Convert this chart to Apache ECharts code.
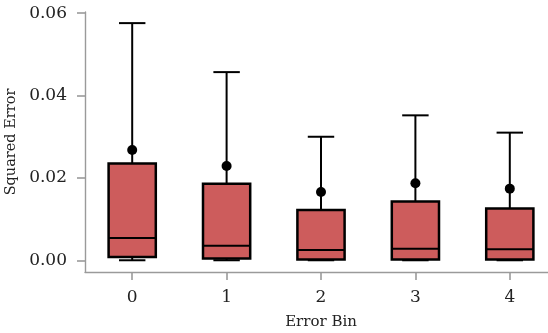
<!DOCTYPE html>
<html>
<head>
<meta charset="utf-8">
<script src="https://cdn.jsdelivr.net/npm/echarts@6/dist/echarts.min.js"></script>
<style>
html, body { margin: 0; padding: 0; background: #fff; }
#chart { width: 548px; height: 333px; }
</style>
</head>
<body>
<div id="chart"></div>
<script>
// 每个误差区间的箱线数据
const bins = ['0', '1', '2', '3', '4']
const whiskerLow = [0.0000, 0.0000, 0.0000, 0.0000, 0.0000]
const q1 = [0.0008, 0.0004, 0.0002, 0.0002, 0.0002]
const median = [0.0054, 0.0035, 0.0025, 0.0028, 0.0027]
const q3 = [0.0235, 0.0186, 0.0122, 0.0143, 0.0126]
const whiskerHigh = [0.0576, 0.0457, 0.0300, 0.0352, 0.0310]
const means = [0.0268, 0.0229, 0.0166, 0.0187, 0.0174]
const yTicks = [0, 0.02, 0.04, 0.06]

const font = 'DejaVu Serif'
const axisGray = '#9a9a9a'

const boxData = bins.map((b, i) => [i, whiskerLow[i], q1[i], median[i], q3[i], whiskerHigh[i]])

function renderBox(params, api) {
    const x = api.value(0)
    const band = api.size([1, 0])[0]
    const halfBox = band * 0.25
    const halfCap = band * 0.14
    const low = api.coord([x, api.value(1)])
    const p1 = api.coord([x, api.value(2)])
    const pm = api.coord([x, api.value(3)])
    const p3 = api.coord([x, api.value(4)])
    const high = api.coord([x, api.value(5)])
    const cx = low[0]
    const line = { stroke: '#000', lineWidth: 2 }
    return {
        type: 'group',
        children: [
            { type: 'line', shape: { x1: cx, y1: low[1], x2: cx, y2: high[1] }, style: line },
            { type: 'line', shape: { x1: cx - halfCap, y1: high[1], x2: cx + halfCap, y2: high[1] }, style: line },
            { type: 'line', shape: { x1: cx - halfCap, y1: low[1], x2: cx + halfCap, y2: low[1] }, style: line },
            { type: 'rect', shape: { x: cx - halfBox, y: p3[1], width: halfBox * 2, height: p1[1] - p3[1] },
              style: { fill: '#cd5c5c', stroke: '#000', lineWidth: 2.5 } },
            { type: 'line', shape: { x1: cx - halfBox, y1: pm[1], x2: cx + halfBox, y2: pm[1] }, style: line }
        ]
    }
}

const chart = echarts.init(document.getElementById('chart'), null, { renderer: 'canvas' })
const option = {
    animation: false,
    grid: { left: 85, right: -9, top: 12, bottom: 61, containLabel: false, outerBoundsMode: 'none' },
    xAxis: {
        type: 'category',
        data: bins,
        name: 'Error Bin',
        nameLocation: 'middle',
        nameGap: 43,
        nameTextStyle: { fontFamily: font, fontSize: 15, color: '#222', verticalAlign: 'top' },
        axisLine: { onZero: false, lineStyle: { color: axisGray, width: 1.4 } },
        axisTick: { show: true, alignWithLabel: true, length: 8, lineStyle: { color: axisGray, width: 1.6 } },
        axisLabel: { fontFamily: font, fontSize: 17, color: '#222', margin: 17 },
        splitLine: { show: false }
    },
    yAxis: {
        type: 'value',
        min: -0.00285,
        max: 0.0603,
        name: 'Squared Error',
        nameLocation: 'middle',
        nameGap: 63,
        nameTextStyle: { fontFamily: font, fontSize: 14.5, color: '#222' },
        axisLine: { show: true, onZero: false, lineStyle: { color: axisGray, width: 1.4 } },
        axisTick: { show: true, length: 8, customValues: yTicks, lineStyle: { color: axisGray, width: 1.6 } },
        axisLabel: { fontFamily: font, fontSize: 17, color: '#222', margin: 18, customValues: yTicks,
            formatter: v => v.toFixed(2) },
        splitLine: { show: false }
    },
    series: [
        { type: 'custom', renderItem: renderBox, data: boxData, encode: { x: 0, y: [1, 5] }, z: 2 },
        { type: 'scatter', data: means.map((m, i) => [i, m]), symbol: 'circle', symbolSize: 10,
          itemStyle: { color: '#000', opacity: 1 }, z: 3 }
    ]
}
chart.setOption(option)
</script>
</body>
</html>
